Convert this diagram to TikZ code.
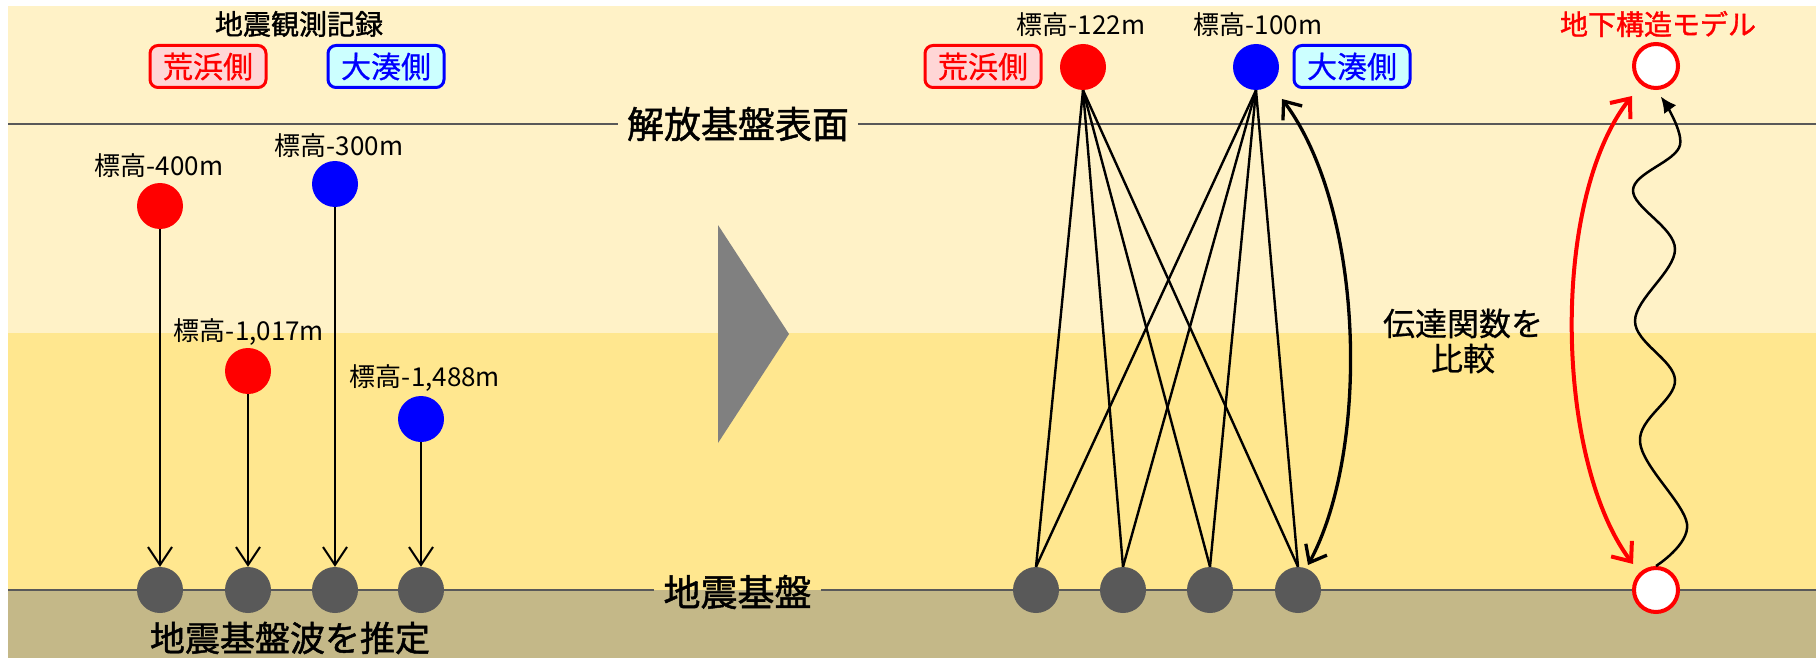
\documentclass[tikz,border=0pt]{standalone}
\usepackage{fontspec}
\setmainfont{Noto Sans CJK JP}
\newfontfamily\medfont{Noto Sans CJK JP}[FakeBold=1.3]
\newfontfamily\semfont{Noto Sans CJK JP}[FakeBold=0.6]
\usetikzlibrary{arrows.meta}
\definecolor{bgA}{RGB}{255,242,199}
\definecolor{bgB}{RGB}{255,231,143}
\definecolor{bgC}{RGB}{196,184,136}
\definecolor{lineg}{RGB}{89,89,89}
\definecolor{pinkf}{RGB}{255,214,214}
\definecolor{cyanf}{RGB}{204,255,255}
\definecolor{trig}{RGB}{128,128,128}
\begin{document}
\begin{tikzpicture}[x=1pt,y=-1pt,
  lbl/.style={font=\fontsize{26}{30}\selectfont, inner sep=0pt},
  ttl/.style={font=\medfont\fontsize{28}{32}\selectfont, inner sep=0pt},
  big/.style={font=\medfont\fontsize{37}{40}\selectfont, inner sep=9pt},
  sidebox/.style={rounded corners=8pt, line width=3pt, minimum width=116pt, minimum height=42pt, inner sep=0pt, font=\semfont\fontsize{30}{34}\selectfont},
  redbox/.style={sidebox, draw=red, fill=pinkf, text=red},
  bluebox/.style={sidebox, draw=blue, fill=cyanf, text=blue},
  dot/.style={circle, minimum size=46pt, inner sep=0pt},
  rdot/.style={dot, fill=red},
  bdot/.style={dot, fill=blue},
  gdot/.style={dot, fill=lineg},
  mdot/.style={circle, minimum size=44pt, inner sep=0pt, draw=red, line width=4pt, fill=white},
  drop/.style={line width=2pt, -{Straight Barb[length=18pt,width=24pt]}},
  link/.style={line width=2.4pt},
  gline/.style={lineg, line width=2.5pt},
  cmp/.style={line width=3.3pt, {Straight Barb[length=15pt,width=24pt]}-{Straight Barb[length=15pt,width=24pt]}},
  redcmp/.style={red, line width=4pt, {Straight Barb[length=16pt,width=26pt]}-{Straight Barb[length=16pt,width=26pt]}},
  wave/.style={line width=2.5pt, -{Latex[length=16pt,width=15pt]}}
]
\useasboundingbox (0,0) rectangle (1816,658);
% bands
\fill[bgA] (8,6) rectangle (1816,333);
\fill[bgB] (8,333) rectangle (1816,590);
\fill[bgC] (8,590) rectangle (1816,658);

% horizon lines with labels
\node[big] (surf) at (738,124) {解放基盤表面};
\coordinate (sL) at (8,124);
\coordinate (sR) at (1816,124);
\draw[gline] (sL) -- (surf.west);
\draw[gline] (surf.east) -- (sR);
\node[big] (base) at (737.5,592) {地震基盤};
\coordinate (bL) at (8,590);
\coordinate (bR) at (1816,590);
\draw[gline] (bL) -- (base.west |- bL);
\draw[gline] (base.east |- bR) -- (bR);

% left part
\node[ttl] (title) at (299,24) {地震観測記録};
\node[redbox] (boxA) at (208,66.5) {荒浜側};
\node[bluebox] (boxB) at (386,66.5) {大湊側};

\node[lbl] (lA) at (159,166) {標高-400m};
\node[lbl] (lB) at (339,146) {標高-300m};
\node[lbl] (lC) at (249,332) {標高-1,017m};
\node[lbl] (lD) at (425,378) {標高-1,488m};

\node[rdot] (r1) at (160,206) {};
\node[bdot] (b1) at (335,184) {};
\node[rdot] (r2) at (248,371) {};
\node[bdot] (b2) at (421,419) {};

\node[gdot] (g1) at (160,590) {};
\node[gdot] (g2) at (248,590) {};
\node[gdot] (g3) at (335,590) {};
\node[gdot] (g4) at (421,590) {};

\draw[drop] (r1.south) -- (g1.north);
\draw[drop] (r2.south) -- (g2.north);
\draw[drop] (b1.south) -- (g3.north);
\draw[drop] (b2.south) -- (g4.north);

\node[font=\medfont\fontsize{35}{40}\selectfont, inner sep=0pt] (est) at (290,638) {地震基盤波を推定};

% big triangle
\fill[trig] (718,225) -- (789,334) -- (718,443) -- cycle;

% right part
\node[lbl] (lE) at (1081,25) {標高-122m};
\node[lbl] (lF) at (1258,25) {標高-100m};
\node[redbox] (boxC) at (983,66.5) {荒浜側};
\node[bluebox] (boxD) at (1352,66.5) {大湊側};

\node[rdot] (rr) at (1083,67) {};
\node[bdot] (rb) at (1256,67) {};

\node[gdot] (h1) at (1036,590) {};
\node[gdot] (h2) at (1123,590) {};
\node[gdot] (h3) at (1210,590) {};
\node[gdot] (h4) at (1298,590) {};

\foreach \h in {h1,h2,h3,h4} {
  \draw[link] (rr.south) -- (\h.north);
  \draw[link] (rb.south) -- (\h.north);
}

\coordinate (ta) at (1282,99);
\coordinate (tb) at (1308,565);
\draw[cmp] (ta) .. controls (1365,210) and (1370,450) .. (tb);

\node[align=center, font=\semfont\fontsize{32}{35}\selectfont, inner sep=0pt] (tf) at (1463,341) {伝達関数を\\比較};

% model
\node[font=\medfont\fontsize{28}{32}\selectfont, text=red, inner sep=0pt] (mtitle) at (1658,24) {地下構造モデル};
\node[mdot] (mt) at (1656,66) {};
\node[mdot] (mb) at (1656,590) {};

\coordinate (ua) at (1632,96);
\coordinate (ub) at (1633,564);
\draw[redcmp] (ua) .. controls (1550,200) and (1555,460) .. (ub);

\draw[wave, shorten >=8pt] plot[smooth, tension=0.6] coordinates {(mb.north) (1687,524) (1640,442) (1675,380) (1635,321) (1675,249) (1633,190) (1680,145) (mt.south)};
\end{tikzpicture}
\end{document}
